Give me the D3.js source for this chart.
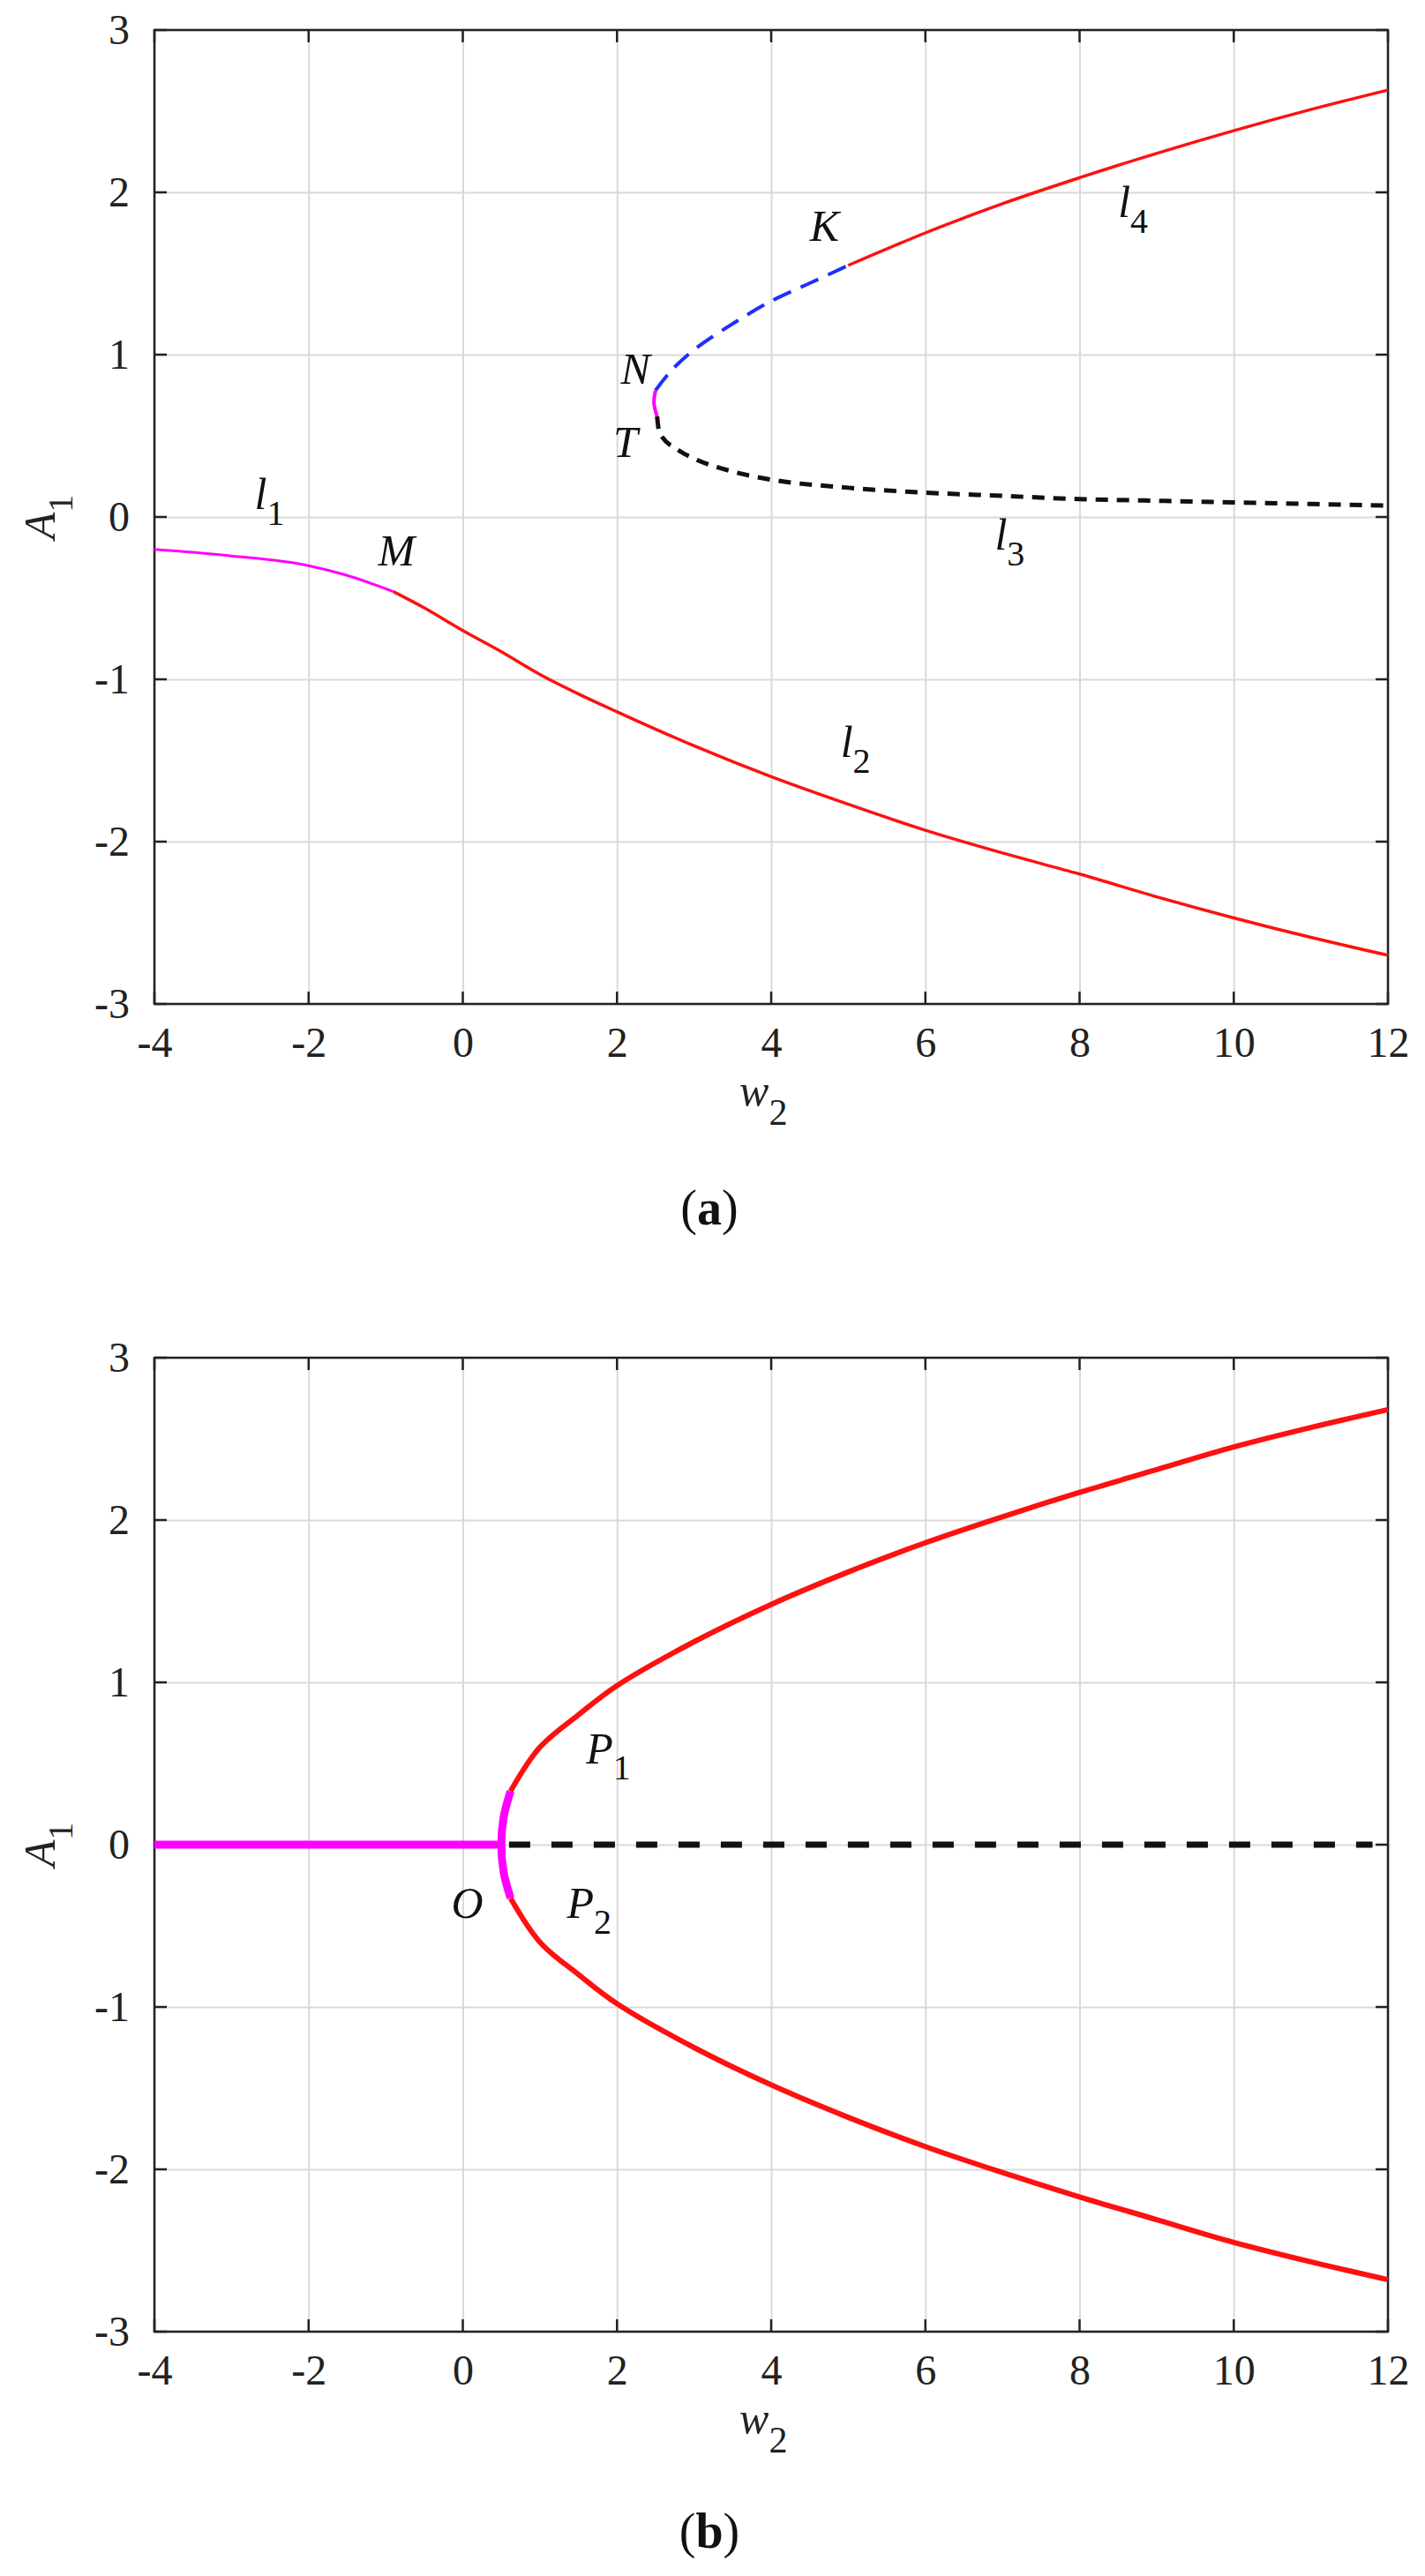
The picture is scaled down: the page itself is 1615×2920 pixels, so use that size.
<!DOCTYPE html>
<html><head><meta charset="utf-8">
<script src="https://cdn.jsdelivr.net/npm/d3@7"></script>
<style>body{margin:0;background:#fff}svg text{font-family:"Liberation Serif","Times New Roman",serif !important}</style>
</head><body>
<svg id="c" width="1615" height="2920"></svg>
<script>
// panel (a)
const lowMagenta = [[-4,-0.2],[-3,-0.24],[-2,-0.3],[-1.5,-0.36],[-0.9,-0.46]];
const lowRed = [[-0.9,-0.46],[-0.5,-0.56],[0,-0.7],[0.5,-0.83],[1,-0.97],[1.5,-1.09],[2,-1.2],[3,-1.41],[4,-1.6],[5,-1.77],[6,-1.93],[7,-2.07],[8,-2.2],[9,-2.34],[10,-2.47],[11,-2.59],[12,-2.7]];
const upBlue = [[2.5,0.78],[2.7,0.9],[3,1.03],[3.5,1.19],[4,1.33],[4.5,1.44],[5,1.55]];
const upRed = [[5,1.55],[6,1.75],[7,1.93],[8,2.09],[9,2.24],[10,2.38],[11,2.51],[12,2.63]];
const nMagenta = [[2.52,0.62],[2.48,0.7],[2.5,0.78]];
const l3Black = [[2.52,0.62],[2.55,0.52],[2.8,0.41],[3,0.36],[3.5,0.28],[4,0.23],[5,0.18],[6,0.15],[7,0.13],[8,0.11],[9,0.1],[10,0.09],[11,0.08],[12,0.07]];
// panel (b)
const bMagentaLine = [[-4,0],[0.5,0]];
const bMagentaArc = [[0.62,0.33],[0.53,0.17],[0.5,0],[0.53,-0.17],[0.62,-0.33]];
const bRedUp = [[0.62,0.33],[1,0.6],[1.5,0.8],[2,0.98],[3,1.25],[4,1.48],[5,1.68],[6,1.86],[7,2.02],[8,2.17],[9,2.31],[10,2.45],[11,2.57],[12,2.68]];
const bRedDown = bRedUp.map(d=>[d[0],-d[1]]);
const bBlack = [[0.6,0],[11.8,0]];

const xTicks = [-4,-2,0,2,4,6,8,10,12];
const yTicks = [-3,-2,-1,0,1,2,3];

const svg = d3.select('#c');
const left = 175, right = 1573;
const fmt = d => String(d);   // plain hyphen for negatives, as in the figure
const serif = '"Liberation Serif","Times New Roman",serif';

function panel(top, bottom, series, labels, caption, capY){
  const x = d3.scaleLinear().domain([-4,12]).range([left,right]);
  const y = d3.scaleLinear().domain([-3,3]).range([bottom,top]);
  const g = svg.append('g');
  g.append('g').attr('transform','translate(0,'+bottom+')')
    .call(d3.axisBottom(x).tickValues(xTicks).tickSize(-(bottom-top)).tickFormat(''))
    .call(a=>a.selectAll('line').attr('stroke','#d9d9d9').attr('stroke-width',2))
    .call(a=>a.select('.domain').remove());
  g.append('g').attr('transform','translate('+left+',0)')
    .call(d3.axisLeft(y).tickValues(yTicks).tickSize(-(right-left)).tickFormat(''))
    .call(a=>a.selectAll('line').attr('stroke','#d9d9d9').attr('stroke-width',2))
    .call(a=>a.select('.domain').remove());
  g.append('rect').attr('x',left).attr('y',top).attr('width',right-left).attr('height',bottom-top)
    .attr('fill','none').attr('stroke','#222').attr('stroke-width',2.5);
  const ax = g.append('g').attr('transform','translate(0,'+bottom+')')
    .call(d3.axisBottom(x).tickValues(xTicks).tickSize(0).tickPadding(26).tickFormat(fmt))
    .attr('font-family',serif).attr('font-size',48);
  ax.select('.domain').remove();
  ax.selectAll('text').attr('fill','#222').style('font-family',serif);
  const ay = g.append('g').attr('transform','translate('+left+',0)')
    .call(d3.axisLeft(y).tickValues(yTicks).tickSize(0).tickPadding(28).tickFormat(fmt))
    .attr('font-family',serif).attr('font-size',48);
  ay.select('.domain').remove();
  ay.selectAll('text').attr('fill','#222').style('font-family',serif);
  // inward tick marks on all four sides
  xTicks.forEach(t=>{
    g.append('line').attr('x1',x(t)).attr('x2',x(t)).attr('y1',bottom).attr('y2',bottom-14).attr('stroke','#222').attr('stroke-width',2.5);
    g.append('line').attr('x1',x(t)).attr('x2',x(t)).attr('y1',top).attr('y2',top+14).attr('stroke','#222').attr('stroke-width',2.5);
  });
  yTicks.forEach(t=>{
    g.append('line').attr('x1',left).attr('x2',left+14).attr('y1',y(t)).attr('y2',y(t)).attr('stroke','#222').attr('stroke-width',2.5);
    g.append('line').attr('x1',right).attr('x2',right-14).attr('y1',y(t)).attr('y2',y(t)).attr('stroke','#222').attr('stroke-width',2.5);
  });

  const line = d3.line().x(d=>x(d[0])).y(d=>y(d[1])).curve(d3.curveMonotoneX);
  const arc = d3.line().x(d=>x(d[0])).y(d=>y(d[1])).curve(d3.curveCatmullRom);
  series.forEach(s=>g.append('path').attr('d',(s.arc?arc:line)(s.data)).attr('fill','none')
    .attr('stroke',s.color).attr('stroke-width',s.w).attr('stroke-dasharray',s.dash||null));

  // axis titles
  const xt = g.append('text').attr('x',x(3.9)).attr('y',bottom+115).attr('text-anchor','middle').attr('font-size',50).attr('fill','#222');
  xt.append('tspan').attr('font-style','italic').text('w');
  xt.append('tspan').attr('dy',22).attr('font-size',42).text('2');
  const yt = g.append('text').attr('transform','translate(62,'+y(0)+') rotate(-90)').attr('text-anchor','middle').attr('font-size',50).attr('fill','#222');
  yt.append('tspan').attr('font-style','italic').text('A');
  yt.append('tspan').attr('dy',20).attr('font-size',40).text('1');

  labels.forEach(l=>{
    const t = g.append('text').attr('x',x(l[0])).attr('y',y(l[1])).attr('font-size',50).attr('fill','#111');
    t.append('tspan').attr('font-style','italic').text(l[2]);
    if(l[3]) t.append('tspan').attr('dy',18).attr('font-size',40).text(l[3]);
  });
  const c = svg.append('text').attr('x',804).attr('y',capY).attr('text-anchor','middle').attr('font-size',56).attr('fill','#111');
  c.append('tspan').text('(');
  c.append('tspan').attr('font-weight','bold').text(caption);
  c.append('tspan').text(')');
}

panel(34,1138,[
  {data:l3Black,color:'#111',w:5,dash:'14,10'},
  {data:lowMagenta,color:'#ff00ff',w:3},
  {data:lowRed,color:'#ff1010',w:3.5},
  {data:upBlue,color:'#1f2fff',w:4,dash:'22,12',arc:true},
  {data:upRed,color:'#ff1010',w:3.5},
  {data:nMagenta,color:'#ff00ff',w:4,arc:true}
],[
  [-2.7,0.05,'l','1'],[-1.1,-0.3,'M'],[4.5,1.7,'K'],[8.5,1.85,'l','4'],
  [2.05,0.82,'N'],[1.95,0.37,'T'],[6.9,-0.2,'l','3'],[4.9,-1.48,'l','2']
],'a',1388);

panel(1539,2643,[
  {data:bBlack,color:'#111',w:7,dash:'24,24'},
  {data:bRedUp,color:'#ff1010',w:6,arc:true},
  {data:bRedDown,color:'#ff1010',w:6,arc:true},
  {data:bMagentaLine,color:'#ff00ff',w:9},
  {data:bMagentaArc,color:'#ff00ff',w:9,arc:true}
],[
  [1.6,0.5,'P','1'],[-0.15,-0.45,'O'],[1.35,-0.45,'P','2']
],'b',2888);
</script>
</body></html>
